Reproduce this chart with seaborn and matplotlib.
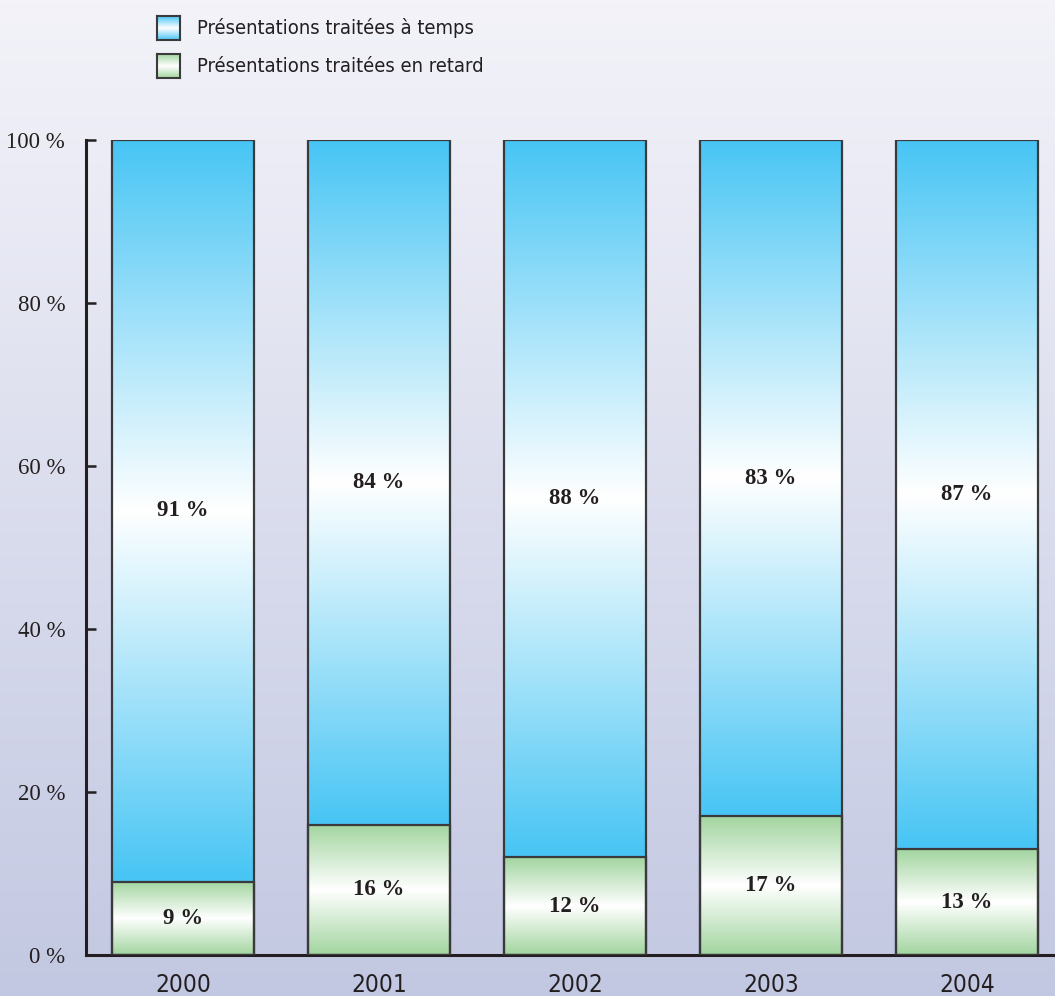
import numpy as np
import pandas as pd
import matplotlib
matplotlib.use("Agg")
import matplotlib.pyplot as plt
from matplotlib.colors import LinearSegmentedColormap
import seaborn as sns

years = ["2000", "2001", "2002", "2003", "2004"]
on_time = [91, 84, 88, 83, 87]
late = [9, 16, 12, 17, 13]
legend_labels = ["Présentations traitées à temps", "Présentations traitées en retard"]
ytick_values = [0, 20, 40, 60, 80, 100]

sns.set_theme(style="white")
plt.rcParams["font.family"] = ["DejaVu Sans"]
plt.rcParams["font.stretch"] = "condensed"

ink = "#231f20"
edge = "#3a3a3c"
blue = "#47c5f4"
green = "#a2d59f"
blue_cmap = LinearSegmentedColormap.from_list("blue_grad", [blue, "#ffffff", blue])
green_cmap = LinearSegmentedColormap.from_list("green_grad", [green, "#ffffff", green])
bg_cmap = LinearSegmentedColormap.from_list("bg_grad", ["#f3f3f9", "#c3c8e2"])
grad = np.linspace(0, 1, 256).reshape(-1, 1)

W, H = 1055, 996
fig = plt.figure(figsize=(W / 100, H / 100), dpi=100)

# soft vertical background wash
bg = fig.add_axes([0, 0, 1, 1], zorder=-5)
bg.imshow(grad, cmap=bg_cmap, aspect="auto", extent=[0, 1, 0, 1], origin="upper")
bg.set_axis_off()

ax = fig.add_axes([86 / W, 41 / H, 1 - 86 / W, 815 / H])
ax.set_facecolor("none")

df = pd.DataFrame({"year": years,
                   "total": [a + b for a, b in zip(on_time, late)],
                   "late": late})
bar_kw = dict(width=0.725, edgecolor=edge, linewidth=1.6, saturation=1, ax=ax)
sns.barplot(data=df, x="year", y="total", color=blue, **bar_kw)
sns.barplot(data=df, x="year", y="late", color=green, **bar_kw)

n = len(years)
blue_bars = ax.patches[:n]
green_bars = ax.patches[n:2 * n]

# replace flat fills with vertical gradients clipped to each bar
for i in range(n):
    for patch, lo, hi, cmap in ((blue_bars[i], late[i], late[i] + on_time[i], blue_cmap),
                                (green_bars[i], 0, late[i], green_cmap)):
        x0, w = patch.get_x(), patch.get_width()
        im = ax.imshow(grad, cmap=cmap, aspect="auto", origin="lower",
                       extent=[x0, x0 + w, lo, hi], zorder=2)
        im.set_clip_path(patch)
        patch.set_facecolor("none")
        patch.set_zorder(3)

serif = dict(family="Liberation Serif", stretch="normal")
for i in range(n):
    ax.text(i, late[i] + on_time[i] / 2, f"{on_time[i]} %", ha="center", va="center",
            fontsize=16.5, fontweight="bold", color=ink, zorder=4, **serif)
    ax.text(i, late[i] / 2, f"{late[i]} %", ha="center", va="center",
            fontsize=16.5, fontweight="bold", color=ink, zorder=4, **serif)

ax.set_xlim(-0.495, 4.45)
ax.set_ylim(0, 100)
ax.set_xlabel("")
ax.set_ylabel("")

for s in ("top", "right"):
    ax.spines[s].set_visible(False)
for s in ("left", "bottom"):
    ax.spines[s].set_color(ink)
    ax.spines[s].set_linewidth(2.2)

ax.set_xticks(range(n), years)
ax.set_xticks([i + 0.5 for i in range(n - 1)], minor=True)
ax.tick_params(axis="x", which="major", length=0, pad=13, labelsize=17.5, labelcolor=ink)
ax.tick_params(axis="x", which="minor", direction="in", length=14, width=2, color=ink)

ax.set_yticks(ytick_values, [f"{v} %" for v in ytick_values])
ax.tick_params(axis="y", direction="in", length=7, width=1.8, color=ink, pad=15,
               labelsize=16.5, labelcolor=ink, left=True)
for lab in ax.get_yticklabels():
    lab.set_family("Liberation Serif")
    lab.set_stretch("normal")

# legend swatches with the same gradients
for (y_top, cmap, label) in ((16, blue_cmap, legend_labels[0]), (54, green_cmap, legend_labels[1])):
    sw = fig.add_axes([157 / W, 1 - (y_top + 24) / H, 23 / W, 24 / H])
    sw.imshow(grad, cmap=cmap, aspect="auto", origin="lower", extent=[0, 1, 0, 1])
    sw.set_xticks([])
    sw.set_yticks([])
    for sp in sw.spines.values():
        sp.set_color(edge)
        sp.set_linewidth(1.5)
    fig.text(197 / W, 1 - (y_top + 12) / H, label, ha="left", va="center",
             fontsize=14.5, color=ink)

fig.savefig("out.png", dpi=100)
